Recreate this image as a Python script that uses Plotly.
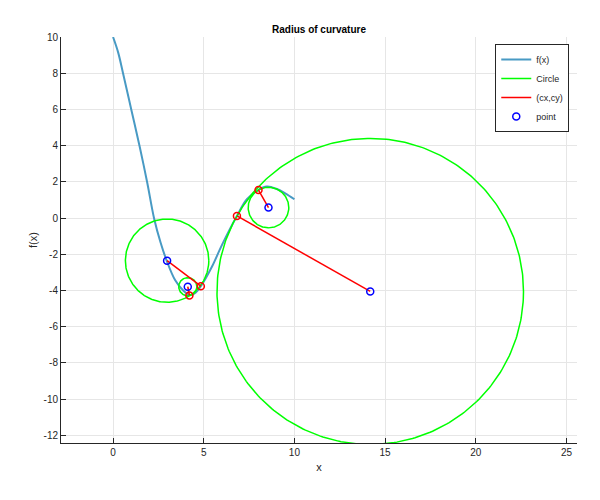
import numpy as np
import plotly.graph_objects as go

# f(x) curve
fx = [0, 0.28, 0.55, 1.01, 1.47, 1.88, 2.27, 2.62, 2.96, 3.42, 3.88, 4.25, 4.55,
      4.84, 5.45, 6.0, 6.83, 7.38, 8.0, 8.48, 9.0, 9.49, 10.0]
fy = [10, 9.15, 8.0, 5.97, 3.94, 1.98, -0.05, -1.35, -2.36, -3.42, -4.01, -4.25, -4.12,
      -3.76, -2.69, -1.49, 0.12, 1.04, 1.55, 1.74, 1.62, 1.37, 1.04]

# points on the curve (red circles)
px = [4.84, 4.21, 6.83, 8.02]
py = [-3.76, -4.27, 0.12, 1.55]

# circle centres (blue) and radii
cx = [2.98, 4.12, 14.18, 8.57]
cy = [-2.35, -3.79, -4.05, 0.58]
radius = [2.30, 0.50, 8.45, 1.12]

x_ticks = [0, 5, 10, 15, 20, 25]
y_ticks = [10, 8, 6, 4, 2, 0, -2, -4, -6, -8, -10, -12]

FONT = "Liberation Sans, Arial, Helvetica, sans-serif"
TXT = "#262626"

fig = go.Figure()

fig.add_trace(go.Scatter(x=fx, y=fy, mode="lines", name="f(x)",
                         line=dict(color="rgb(72,154,196)", width=2, shape="spline",
                                   smoothing=1)))

# circles
t = np.linspace(0, 2 * np.pi, 361)
circ_x, circ_y = [], []
for a, b, r in zip(cx, cy, radius):
    circ_x += list(a + r * np.cos(t)) + [None]
    circ_y += list(b + r * np.sin(t)) + [None]
fig.add_trace(go.Scatter(x=circ_x, y=circ_y, mode="lines", name="Circle",
                         line=dict(color="#00ff00", width=1.5)))

# radius lines
lx, ly = [], []
for a, b, c, d in zip(px, py, cx, cy):
    lx += [a, c, None]
    ly += [b, d, None]
fig.add_trace(go.Scatter(x=lx, y=ly, mode="lines", name="(cx,cy)",
                         line=dict(color="#ff0000", width=1.5)))
fig.add_trace(go.Scatter(x=px, y=py, mode="markers", showlegend=False,
                         marker=dict(symbol="circle-open", size=7, color="#ff0000",
                                     line=dict(width=1.5, color="#ff0000"))))

fig.add_trace(go.Scatter(x=cx, y=cy, mode="markers", name="point",
                         marker=dict(symbol="circle-open", size=7, color="#0000ff",
                                     line=dict(width=1.5, color="#0000ff"))))

axis_common = dict(showgrid=True, gridcolor="#e6e6e6", gridwidth=1, zeroline=False,
                   showline=True, linecolor=TXT, linewidth=1, ticks="inside",
                   ticklen=5, tickcolor=TXT, tickfont=dict(family=FONT, size=10, color=TXT),
                   mirror=False)

fig.update_xaxes(range=[-2.87, 25.58], tickvals=x_ticks, ticktext=[str(v) for v in x_ticks],
                 title=dict(text="x", font=dict(family=FONT, size=11, color=TXT), standoff=6),
                 **axis_common)
fig.update_yaxes(range=[-12.42, 10], tickvals=y_ticks, ticktext=[str(v) for v in y_ticks],
                 title=dict(text="f(x)", font=dict(family=FONT, size=11, color=TXT), standoff=3),
                 **axis_common)

fig.update_layout(
    width=600, height=500, autosize=False,
    margin=dict(l=61, r=23, t=37, b=57),
    paper_bgcolor="white", plot_bgcolor="white",
    title=dict(text="<b>Radius of curvature</b>", x=0.5, xref="paper", xanchor="center",
               y=1, yref="paper", yanchor="bottom", pad=dict(b=4),
               font=dict(family=FONT, size=10, color="black")),
    legend=dict(x=0.985, y=0.983, xanchor="right", yanchor="top",
                bgcolor="white", bordercolor=TXT, borderwidth=1, itemwidth=30,
                font=dict(family=FONT, size=9, color=TXT), tracegroupgap=0),
    font=dict(family=FONT),
)

fig.write_html("out.html", config={"displayModeBar": False},
               post_script="document.body.style.margin='0';")
